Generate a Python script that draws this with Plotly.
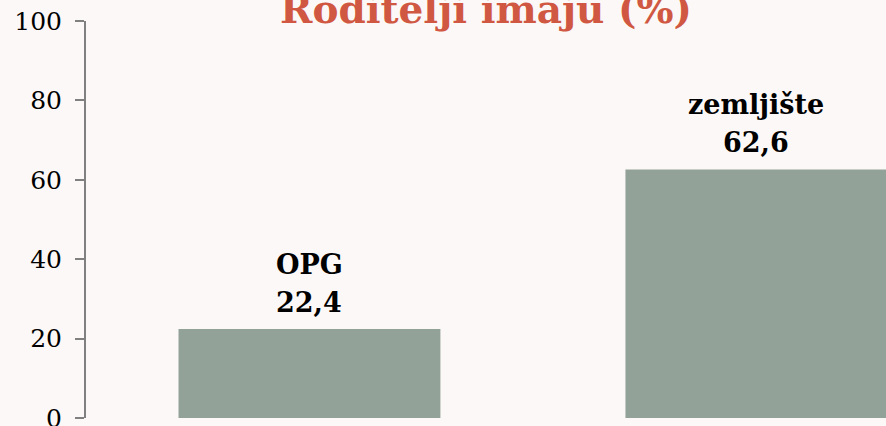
import plotly.graph_objects as go

categories = ["OPG", "zemljište"]
values = [22.4, 62.6]
title_text = "Roditelji imaju (%)"
y_ticks = [0, 20, 40, 60, 80, 100]

BG = "#fcf8f7"
BAR = "#93a299"
FONT = "DejaVu Serif"

fig = go.Figure()
fig.add_trace(go.Bar(
    x=categories,
    y=values,
    marker=dict(color=BAR, line=dict(width=0)),
    width=0.586,
    hoverinfo="skip",
))

for c, v in zip(categories, values):
    fig.add_annotation(x=c, y=v, xref="x", yref="y",
                       text="<b>" + f"{v:.1f}".replace(".", ",") + "</b>",
                       showarrow=False, yanchor="bottom", yshift=9,
                       font=dict(family=FONT, size=27, color="#000000"))
    fig.add_annotation(x=c, y=v, xref="x", yref="y",
                       text="<b>" + c + "</b>",
                       showarrow=False, yanchor="bottom", yshift=47,
                       font=dict(family=FONT, size=27, color="#000000"))

fig.add_annotation(x=0.5, y=1, xref="paper", yref="paper",
                   text="<b>" + title_text + "</b>", showarrow=False,
                   yanchor="bottom", yshift=-13,
                   font=dict(family=FONT, size=39, color="#d05842"))

fig.update_layout(
    width=886, height=426,
    margin=dict(l=86, r=0, t=21, b=8, autoexpand=False),
    paper_bgcolor=BG, plot_bgcolor=BG,
    showlegend=False,
    separators=", ",
)
fig.update_xaxes(range=[-0.5, 1.29], showline=False, showticklabels=False,
                 ticks="", showgrid=False, zeroline=False, fixedrange=True,
                 automargin=False)
fig.update_yaxes(range=[0, 100], tickvals=y_ticks, showline=True,
                 linecolor="#808080", linewidth=2, ticks="outside",
                 ticklen=9, tickwidth=2, tickcolor="#808080",
                 showgrid=False, zeroline=False,
                 tickfont=dict(family=FONT, size=25, color="#000000"),
                 ticklabelstandoff=8, ticklabeloverflow="allow",
                 automargin=False, fixedrange=True)

fig.write_html("out.html", config={"displayModeBar": False},
               post_script="document.body.style.margin='0';"
                           "document.body.style.background='" + BG + "';")
